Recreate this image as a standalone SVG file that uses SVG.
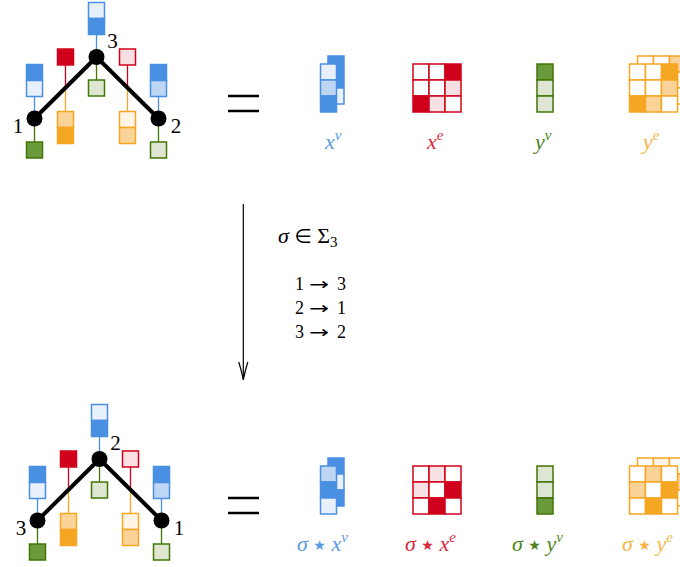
<svg xmlns="http://www.w3.org/2000/svg" width="680" height="567" viewBox="0 0 680 567">
<defs>
<style>
.b{stroke:#4A90E2;stroke-width:1.5}
.bF{fill:#4A90E2}.bM{fill:#bcd6f3}.bL{fill:#e8f0fb}
.r{stroke:#D0021B;stroke-width:1.5}
.rF{fill:#D0021B}.rL{fill:#f9e0e3}
.g{stroke:#417505;stroke-width:1.5}
.gF{fill:#6b9a3d}.gL{fill:#dde6d2}
.o{stroke:#F5A623;stroke-width:1.5}
.oF{fill:#F5A623}.oM{fill:#fad398}.oL{fill:#fef5e7}
.w{fill:#ffffff}
.lb{stroke:#4A90E2;stroke-width:1.3}
.lr{stroke:#D0021B;stroke-width:1.3}
.lg{stroke:#417505;stroke-width:1.3}
.lo{stroke:#F5A623;stroke-width:1.3}
.edge{stroke:#000;stroke-width:4;stroke-linecap:round}
.node{fill:#000}
.num{font-family:"Liberation Serif","DejaVu Serif",serif;font-size:21px;fill:#000;text-anchor:middle}
.math{font-family:"Liberation Serif","DejaVu Serif",serif;font-size:22px}
.it{font-style:italic}
.sup{font-size:15px;font-style:italic}
.star{font-family:"DejaVu Sans",sans-serif;font-size:14px}
.arr{font-family:"DejaVu Sans",sans-serif}
.eq{stroke:#000;stroke-width:2.5}
</style>
</defs>

<!-- TOP GRAPH -->
<g id="top-graph">
  <g id="top-connectors" fill="none">
    <line class="lb" x1="34.5" y1="96.5" x2="34.5" y2="118.5"/>
    <line class="lb" x1="96.5" y1="34.5" x2="96.5" y2="57"/>
    <line class="lb" x1="158.5" y1="96.5" x2="158.5" y2="118.5"/>
    <line class="lg" x1="34.5" y1="118.5" x2="34.5" y2="142"/>
    <line class="lg" x1="96.5" y1="57" x2="96.5" y2="80"/>
    <line class="lg" x1="158.5" y1="118.5" x2="158.5" y2="142"/>
    <line class="lr" x1="65.5" y1="65" x2="65.5" y2="88"/>
    <line class="lr" x1="127.5" y1="65" x2="127.5" y2="88"/>
    <line class="lo" x1="65.5" y1="88" x2="65.5" y2="111.5"/>
    <line class="lo" x1="127.5" y1="88" x2="127.5" y2="111.5"/>
    <line class="edge" x1="34.5" y1="118.5" x2="96.5" y2="57"/>
    <line class="edge" x1="96.5" y1="57" x2="158.5" y2="118.5"/>
  </g>
  <g id="top-node-1">
    <circle class="node" cx="34.5" cy="118.5" r="8"/>
    <rect class="b bF" x="26.5" y="64.5" width="16" height="16"/>
    <rect class="b bL" x="26.5" y="80.5" width="16" height="16"/>
    <rect class="g gF" x="26.5" y="142" width="16" height="16"/>
    <text class="num" x="18" y="133">1</text>
  </g>
  <g id="top-node-3">
    <circle class="node" cx="96.5" cy="57" r="8"/>
    <rect class="b bL" x="88.5" y="2.5" width="16" height="16"/>
    <rect class="b bF" x="88.5" y="18.5" width="16" height="16"/>
    <rect class="g gL" x="88.5" y="80" width="16" height="16"/>
    <text class="num" x="112.5" y="48">3</text>
  </g>
  <g id="top-node-2">
    <circle class="node" cx="158.5" cy="118.5" r="8"/>
    <rect class="b bF" x="150.5" y="64.5" width="16" height="16"/>
    <rect class="b bM" x="150.5" y="80.5" width="16" height="16"/>
    <rect class="g gL" x="150.5" y="142" width="16" height="16"/>
    <text class="num" x="176" y="133">2</text>
  </g>
  <g id="top-edge-13">
    <rect class="r rF" x="57.5" y="49" width="16" height="16"/>
    <rect class="o oM" x="57.5" y="111.5" width="16" height="16"/>
    <rect class="o oF" x="57.5" y="127.5" width="16" height="16"/>
  </g>
  <g id="top-edge-32">
    <rect class="r rL" x="119.5" y="49" width="16" height="16"/>
    <rect class="o oL" x="119.5" y="111.5" width="16" height="16"/>
    <rect class="o oM" x="119.5" y="127.5" width="16" height="16"/>
  </g>
</g>

<g id="top-equals">
  <line class="eq" x1="228" y1="96" x2="259" y2="96"/>
  <line class="eq" x1="228" y1="111" x2="259" y2="111"/>
</g>

<!-- TOP MATRICES -->
<g id="top-xv">
  <rect class="b bF" x="328" y="56" width="16" height="16"/>
  <rect class="b bF" x="328" y="72" width="16" height="16"/>
  <rect class="b bL" x="328" y="88" width="16" height="16"/>
  <rect class="b bL" x="320.5" y="64" width="16" height="16"/>
  <rect class="b bM" x="320.5" y="80" width="16" height="16"/>
  <rect class="b bF" x="320.5" y="96" width="16" height="16"/>
  <text class="math" x="325" y="149" fill="#5b9ae4"><tspan class="it">x</tspan><tspan class="sup" dy="-9">v</tspan></text>
</g>
<g id="top-xe">
  <rect class="r w" x="413" y="64" width="16" height="16"/>
  <rect class="r w" x="429" y="64" width="16" height="16"/>
  <rect class="r rF" x="445" y="64" width="16" height="16"/>
  <rect class="r w" x="413" y="80" width="16" height="16"/>
  <rect class="r w" x="429" y="80" width="16" height="16"/>
  <rect class="r rL" x="445" y="80" width="16" height="16"/>
  <rect class="r rF" x="413" y="96" width="16" height="16"/>
  <rect class="r rL" x="429" y="96" width="16" height="16"/>
  <rect class="r w" x="445" y="96" width="16" height="16"/>
  <text class="math" x="427" y="149" fill="#d82a3e"><tspan class="it">x</tspan><tspan class="sup" dy="-9">e</tspan></text>
</g>
<g id="top-yv">
  <rect class="g gF" x="537" y="64" width="16" height="16"/>
  <rect class="g gL" x="537" y="80" width="16" height="16"/>
  <rect class="g gL" x="537" y="96" width="16" height="16"/>
  <text class="math" x="535" y="149" fill="#4f8420"><tspan class="it">y</tspan><tspan class="sup" dy="-9">v</tspan></text>
</g>
<g id="top-ye">
  <rect class="o w" x="637.5" y="56" width="16" height="16"/>
  <rect class="o w" x="653.5" y="56" width="16" height="16"/>
  <rect class="o oM" x="669.5" y="56" width="16" height="16"/>
  <rect class="o w" x="637.5" y="72" width="16" height="16"/>
  <rect class="o w" x="653.5" y="72" width="16" height="16"/>
  <rect class="o oL" x="669.5" y="72" width="16" height="16"/>
  <rect class="o oM" x="637.5" y="88" width="16" height="16"/>
  <rect class="o oL" x="653.5" y="88" width="16" height="16"/>
  <rect class="o w" x="669.5" y="88" width="16" height="16"/>
  <rect class="o w" x="629.5" y="64" width="16" height="16"/>
  <rect class="o w" x="645.5" y="64" width="16" height="16"/>
  <rect class="o oF" x="661.5" y="64" width="16" height="16"/>
  <rect class="o w" x="629.5" y="80" width="16" height="16"/>
  <rect class="o w" x="645.5" y="80" width="16" height="16"/>
  <rect class="o oM" x="661.5" y="80" width="16" height="16"/>
  <rect class="o oF" x="629.5" y="96" width="16" height="16"/>
  <rect class="o oM" x="645.5" y="96" width="16" height="16"/>
  <rect class="o w" x="661.5" y="96" width="16" height="16"/>
  <text class="math" x="643" y="149" fill="#f7b445"><tspan class="it">y</tspan><tspan class="sup" dy="-9">e</tspan></text>
</g>

<!-- MIDDLE -->
<g id="permutation-arrow">
  <line x1="243.3" y1="204" x2="243.3" y2="379" stroke="#000" stroke-width="1.2"/>
  <path d="M238.8,362 Q241.6,371 243.3,380 Q245,371 247.8,362" fill="none" stroke="#000" stroke-width="1.2"/>
</g>
<g id="permutation-text" font-family="'Liberation Serif','DejaVu Serif',serif" fill="#000">
  <text x="278" y="243" font-size="22"><tspan font-style="italic">σ</tspan> <tspan class="arr" font-size="20">∈</tspan> Σ<tspan font-size="15" dy="4">3</tspan></text>
  <text x="295" y="290" font-size="18">1</text>
  <text class="arr" x="309" y="290" font-size="17" textLength="20" lengthAdjust="spacingAndGlyphs">→</text>
  <text x="337" y="290" font-size="18">3</text>
  <text x="295" y="314" font-size="18">2</text>
  <text class="arr" x="309" y="314" font-size="17" textLength="20" lengthAdjust="spacingAndGlyphs">→</text>
  <text x="337" y="314" font-size="18">1</text>
  <text x="295" y="338" font-size="18">3</text>
  <text class="arr" x="309" y="338" font-size="17" textLength="20" lengthAdjust="spacingAndGlyphs">→</text>
  <text x="337" y="338" font-size="18">2</text>
</g>

<!-- BOTTOM GRAPH -->
<g id="bottom-graph" transform="translate(3,402)">
  <g id="bottom-connectors" fill="none">
    <line class="lb" x1="34.5" y1="96.5" x2="34.5" y2="118.5"/>
    <line class="lb" x1="96.5" y1="34.5" x2="96.5" y2="57"/>
    <line class="lb" x1="158.5" y1="96.5" x2="158.5" y2="118.5"/>
    <line class="lg" x1="34.5" y1="118.5" x2="34.5" y2="142"/>
    <line class="lg" x1="96.5" y1="57" x2="96.5" y2="80"/>
    <line class="lg" x1="158.5" y1="118.5" x2="158.5" y2="142"/>
    <line class="lr" x1="65.5" y1="65" x2="65.5" y2="88"/>
    <line class="lr" x1="127.5" y1="65" x2="127.5" y2="88"/>
    <line class="lo" x1="65.5" y1="88" x2="65.5" y2="111.5"/>
    <line class="lo" x1="127.5" y1="88" x2="127.5" y2="111.5"/>
    <line class="edge" x1="34.5" y1="118.5" x2="96.5" y2="57"/>
    <line class="edge" x1="96.5" y1="57" x2="158.5" y2="118.5"/>
  </g>
  <g id="bottom-node-3">
    <circle class="node" cx="34.5" cy="118.5" r="8"/>
    <rect class="b bF" x="26.5" y="64.5" width="16" height="16"/>
    <rect class="b bL" x="26.5" y="80.5" width="16" height="16"/>
    <rect class="g gF" x="26.5" y="142" width="16" height="16"/>
    <text class="num" x="18" y="133">3</text>
  </g>
  <g id="bottom-node-2">
    <circle class="node" cx="96.5" cy="57" r="8"/>
    <rect class="b bL" x="88.5" y="2.5" width="16" height="16"/>
    <rect class="b bF" x="88.5" y="18.5" width="16" height="16"/>
    <rect class="g gL" x="88.5" y="80" width="16" height="16"/>
    <text class="num" x="112.5" y="48">2</text>
  </g>
  <g id="bottom-node-1">
    <circle class="node" cx="158.5" cy="118.5" r="8"/>
    <rect class="b bF" x="150.5" y="64.5" width="16" height="16"/>
    <rect class="b bM" x="150.5" y="80.5" width="16" height="16"/>
    <rect class="g gL" x="150.5" y="142" width="16" height="16"/>
    <text class="num" x="176" y="133">1</text>
  </g>
  <g id="bottom-edge-32">
    <rect class="r rF" x="57.5" y="49" width="16" height="16"/>
    <rect class="o oM" x="57.5" y="111.5" width="16" height="16"/>
    <rect class="o oF" x="57.5" y="127.5" width="16" height="16"/>
  </g>
  <g id="bottom-edge-21">
    <rect class="r rL" x="119.5" y="49" width="16" height="16"/>
    <rect class="o oL" x="119.5" y="111.5" width="16" height="16"/>
    <rect class="o oM" x="119.5" y="127.5" width="16" height="16"/>
  </g>
</g>

<g id="bottom-equals">
  <line class="eq" x1="228" y1="498" x2="259" y2="498"/>
  <line class="eq" x1="228" y1="513" x2="259" y2="513"/>
</g>

<!-- BOTTOM MATRICES -->
<g id="bottom-xv">
  <rect class="b bF" x="328" y="458" width="16" height="16"/>
  <rect class="b bL" x="328" y="474" width="16" height="16"/>
  <rect class="b bF" x="328" y="490" width="16" height="16"/>
  <rect class="b bM" x="320.5" y="466" width="16" height="16"/>
  <rect class="b bF" x="320.5" y="482" width="16" height="16"/>
  <rect class="b bL" x="320.5" y="498" width="16" height="16"/>
  <text class="math" x="297" y="551" fill="#5b9ae4"><tspan class="it">σ</tspan> <tspan class="star" dy="-1">★</tspan> <tspan class="it" dy="1">x</tspan><tspan class="sup" dy="-9">v</tspan></text>
</g>
<g id="bottom-xe">
  <rect class="r w" x="413" y="466" width="16" height="16"/>
  <rect class="r rL" x="429" y="466" width="16" height="16"/>
  <rect class="r w" x="445" y="466" width="16" height="16"/>
  <rect class="r rL" x="413" y="482" width="16" height="16"/>
  <rect class="r w" x="429" y="482" width="16" height="16"/>
  <rect class="r rF" x="445" y="482" width="16" height="16"/>
  <rect class="r w" x="413" y="498" width="16" height="16"/>
  <rect class="r rF" x="429" y="498" width="16" height="16"/>
  <rect class="r w" x="445" y="498" width="16" height="16"/>
  <text class="math" x="405" y="551" fill="#d82a3e"><tspan class="it">σ</tspan> <tspan class="star" dy="-1">★</tspan> <tspan class="it" dy="1">x</tspan><tspan class="sup" dy="-9">e</tspan></text>
</g>
<g id="bottom-yv">
  <rect class="g gL" x="537" y="466" width="16" height="16"/>
  <rect class="g gL" x="537" y="482" width="16" height="16"/>
  <rect class="g gF" x="537" y="498" width="16" height="16"/>
  <text class="math" x="512" y="551" fill="#4f8420"><tspan class="it">σ</tspan> <tspan class="star" dy="-1">★</tspan> <tspan class="it" dy="1">y</tspan><tspan class="sup" dy="-9">v</tspan></text>
</g>
<g id="bottom-ye">
  <rect class="o w" x="637.5" y="458" width="16" height="16"/>
  <rect class="o oL" x="653.5" y="458" width="16" height="16"/>
  <rect class="o w" x="669.5" y="458" width="16" height="16"/>
  <rect class="o oL" x="637.5" y="474" width="16" height="16"/>
  <rect class="o w" x="653.5" y="474" width="16" height="16"/>
  <rect class="o oM" x="669.5" y="474" width="16" height="16"/>
  <rect class="o w" x="637.5" y="490" width="16" height="16"/>
  <rect class="o oM" x="653.5" y="490" width="16" height="16"/>
  <rect class="o w" x="669.5" y="490" width="16" height="16"/>
  <rect class="o w" x="629.5" y="466" width="16" height="16"/>
  <rect class="o oM" x="645.5" y="466" width="16" height="16"/>
  <rect class="o w" x="661.5" y="466" width="16" height="16"/>
  <rect class="o oM" x="629.5" y="482" width="16" height="16"/>
  <rect class="o w" x="645.5" y="482" width="16" height="16"/>
  <rect class="o oF" x="661.5" y="482" width="16" height="16"/>
  <rect class="o w" x="629.5" y="498" width="16" height="16"/>
  <rect class="o oF" x="645.5" y="498" width="16" height="16"/>
  <rect class="o w" x="661.5" y="498" width="16" height="16"/>
  <text class="math" x="622" y="551" fill="#f7b445"><tspan class="it">σ</tspan> <tspan class="star" dy="-1">★</tspan> <tspan class="it" dy="1">y</tspan><tspan class="sup" dy="-9">e</tspan></text>
</g>
</svg>
